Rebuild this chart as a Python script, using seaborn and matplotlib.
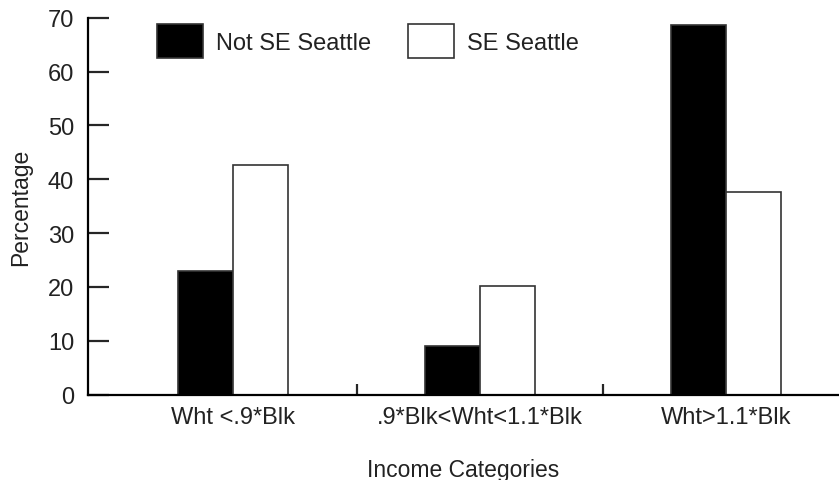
import numpy as np
import pandas as pd
import matplotlib
matplotlib.use("Agg")
import matplotlib.pyplot as plt
import seaborn as sns

# data
categories = ["Wht <.9*Blk", ".9*Blk<Wht<1.1*Blk", "Wht>1.1*Blk"]
not_se_seattle = [23.0, 9.0, 68.6]
se_seattle = [42.7, 20.2, 37.6]
groups = ["Not SE Seattle", "SE Seattle"]

df = pd.DataFrame({
    "category": categories * 2,
    "group": [groups[0]] * 3 + [groups[1]] * 3,
    "pct": not_se_seattle + se_seattle,
})

sns.set_style("white")
plt.rcParams["font.family"] = ["Liberation Sans", "DejaVu Sans"]
text_color = "#222222"
tick_fs = 17
label_fs = 16.5

fig = plt.figure(figsize=(8.39, 4.81), dpi=100)
ax = fig.add_axes([88 / 839, 1 - 395.7 / 481, 751 / 839, 377 / 481])

sns.barplot(data=df, x="category", y="pct", hue="group",
            palette=["black", "white"], width=0.446, saturation=1,
            edgecolor="#333333", linewidth=1.2, ax=ax)

ax.set_xlim(-0.59, 2.457)
ax.set_ylim(0, 70)
ax.set_yticks(np.arange(0, 71, 10))

# spines
sns.despine(ax=ax)
for side in ["left", "bottom"]:
    ax.spines[side].set_linewidth(1.6)
    ax.spines[side].set_color("black")

# ticks: y ticks inward, x ticks only between groups
ax.tick_params(axis="y", direction="in", length=15, width=1.6, pad=10,
               labelsize=tick_fs, labelcolor=text_color, left=True)
ax.tick_params(axis="x", which="major", length=0, pad=8,
               labelsize=tick_fs, labelcolor=text_color)
ax.set_xticks([0.5, 1.5], minor=True)
ax.tick_params(axis="x", which="minor", direction="in", length=8,
               width=1.6, bottom=True)

ax.set_xlabel("Income Categories", fontsize=label_fs, color=text_color, labelpad=22)
ax.set_ylabel("Percentage", fontsize=label_fs, color=text_color, labelpad=11)

# legend with big square handles
handles, labels = ax.get_legend_handles_labels()
ax.legend(handles, labels, ncol=2, frameon=False, loc="upper left",
          bbox_to_anchor=(0.092, 0.983), borderaxespad=0, borderpad=0,
          handlelength=1.95, handleheight=1.86, handletextpad=0.55,
          columnspacing=1.57, fontsize=tick_fs, labelcolor=text_color)

plt.savefig("out.png", dpi=100)
